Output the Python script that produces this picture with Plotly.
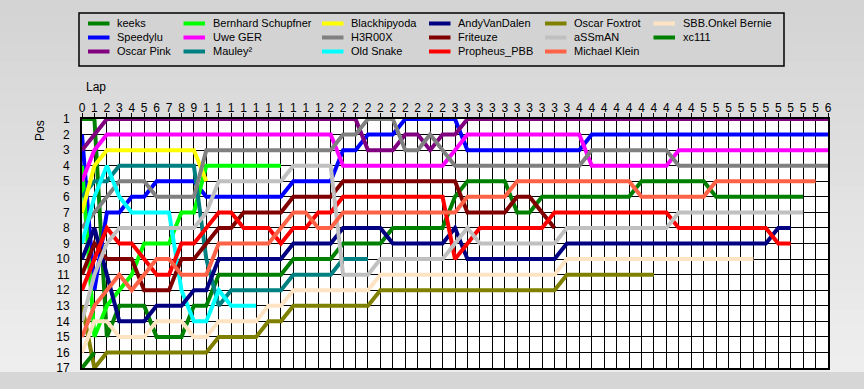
import plotly.graph_objects as go

# ---------------- data ----------------
drivers = ["keeks", "Speedylu", "Oscar Pink", "Bernhard Schupfner", "Uwe GER", "Mauley²",
           "Blackhipyoda", "H3R00X", "Old Snake", "AndyVanDalen", "Friteuze", "Propheus_PBB",
           "Oscar Foxtrot", "aSSmAN", "Michael Klein", "SBB.Onkel Bernie", "xc111"]
colors = ["#008000", "#0000FF", "#800080", "#00FF00", "#FF00FF", "#008080",
          "#FFFF00", "#808080", "#00FFFF", "#000080", "#800000", "#FF0000",
          "#808000", "#C0C0C0", "#FF6347", "#FFE4C4", "#008000"]

# position per lap, starting at lap 0
keeks = [1, 1, 15, 13, 13, 13, 15, 15, 15, 13, 13, 11, 11, 11, 11, 11, 11, 10, 10, 10,
         10, 9, 9, 9, 9, 8, 8, 8, 8, 8, 6, 5, 5, 5, 5, 7, 7, 6, 6, 6,
         6, 6, 6, 6, 6, 5, 5, 5, 5, 5, 5, 6, 6, 6, 6, 6, 6, 6, 6]
speedylu = [2, 12, 7, 7, 6, 6, 5, 5, 5, 5, 6, 6, 6, 6, 6, 6, 6, 5, 5, 5,
            5, 3, 3, 2, 2, 2, 1, 1, 1, 1, 1, 3, 3, 3, 3, 3, 3, 3, 3, 3,
            3, 2, 2, 2, 2, 2, 2, 2, 2, 2, 2, 2, 2, 2, 2, 2, 2, 2, 2, 2, 2]
oscar_pink = [3, 2, 1, 1, 1, 1, 1, 1, 1, 1, 1, 1, 1, 1, 1, 1, 1, 1, 1, 1,
              1, 1, 1, 3, 3, 3, 2, 2, 3, 2, 2, 1, 1, 1, 1, 1, 1, 1, 1, 1,
              1, 1, 1, 1, 1, 1, 1, 1, 1, 1, 1, 1, 1, 1, 1, 1, 1, 1, 1, 1, 1]
bernhard = [4, 15, 13, 12, 11, 9, 9, 9, 7, 7, 4, 4, 4, 4, 4, 4, 4]
uwe_ger = [5, 3, 2, 2, 2, 2, 2, 2, 2, 2, 2, 2, 2, 2, 2, 2, 2, 2, 2, 2,
           2, 4, 4, 4, 4, 4, 4, 4, 4, 4, 3, 2, 2, 2, 2, 2, 2, 2, 2, 2,
           2, 4, 4, 4, 4, 4, 4, 4, 3, 3, 3, 3, 3, 3, 3, 3, 3, 3, 3, 3, 3]
mauley = [6, 5, 5, 4, 4, 4, 4, 4, 4, 4, 10, 13, 12, 12, 12, 12, 12, 11, 11, 11,
          11, 10, 10, 10]
blackhipyoda = [7, 4, 3, 3, 3, 3, 3, 3, 3, 3, 5]
h3r00x = [8, 7, 6, 5, 5, 5, 6, 6, 6, 6, 3, 3, 3, 3, 3, 3, 3, 3, 3, 3,
          3, 2, 2, 1, 1, 1, 3, 3, 2, 3, 4, 4, 4, 4, 4, 4, 4, 4, 4, 4,
          4, 3, 3, 3, 3, 3, 3, 3, 4, 4, 4, 4, 4, 4, 4, 4, 4, 4, 4, 4, 4]
old_snake = [9, 6, 4, 6, 7, 7, 7, 7, 12, 14, 14, 12, 13, 13, 13]
andyvandalen = [10, 8, 11, 14, 14, 14, 13, 13, 13, 12, 12, 10, 10, 10, 10, 10, 10, 9, 9, 9,
                9, 8, 8, 8, 8, 9, 9, 9, 9, 9, 8, 10, 10, 10, 10, 10, 10, 10, 10, 9,
                9, 9, 9, 9, 9, 9, 9, 9, 9, 9, 9, 9, 9, 9, 9, 9, 8, 8]
friteuze = [11, 9, 10, 10, 10, 12, 12, 12, 10, 10, 9, 8, 8, 7, 7, 7, 7, 6, 6, 6,
            6, 5, 5, 5, 5, 5, 5, 5, 5, 5, 5, 7, 7, 7, 7, 6, 6, 7, 8]
propheus = [12, 10, 8, 9, 9, 10, 11, 11, 9, 9, 8, 7, 7, 8, 8, 8, 9, 8, 8, 7,
            7, 6, 6, 6, 6, 6, 6, 6, 6, 6, 10, 9, 8, 8, 8, 8, 8, 8, 7, 7,
            7, 7, 7, 7, 7, 7, 7, 7, 8, 8, 8, 8, 8, 8, 8, 8, 9, 9]
oscar_foxtrot = [13, 17, 16, 16, 16, 16, 16, 16, 16, 16, 16, 15, 15, 15, 15, 14, 14, 13, 13, 13,
                 13, 13, 13, 13, 12, 12, 12, 12, 12, 12, 12, 12, 12, 12, 12, 12, 12, 12, 12, 11,
                 11, 11, 11, 11, 11, 11, 11]
assman = [14, 11, 9, 8, 8, 8, 8, 8, 8, 8, 7, 5, 5, 5, 5, 5, 5, 4, 4, 4,
          4, 11, 11, 11, 10, 10, 10, 10, 10, 10, 9, 8, 9, 9, 9, 9, 9, 9, 9, 8,
          8, 8, 8, 8, 8, 8, 8, 8, 7, 7, 7, 7, 7, 7, 7, 7, 7, 7, 7]
michael_klein = [15, 13, 12, 11, 12, 11, 10, 10, 11, 11, 11, 9, 9, 9, 9, 9, 8, 7, 7, 8,
                 8, 7, 7, 7, 7, 7, 7, 7, 7, 7, 7, 6, 6, 6, 6, 5, 5, 5, 5, 5,
                 5, 5, 5, 5, 5, 6, 6, 6, 6, 6, 6, 5, 5, 5, 5, 5, 5, 5, 5, 5]
sbb = [16, 14, 14, 15, 15, 15, 14, 14, 14, 15, 15, 14, 14, 14, 14, 13, 13, 12, 12, 12,
       12, 12, 12, 12, 11, 11, 11, 11, 11, 11, 11, 11, 11, 11, 11, 11, 11, 11, 11, 10,
       10, 10, 10, 10, 10, 10, 10, 10, 10, 10, 10, 10, 10, 10, 10]
xc111 = [17, 16]

series = [keeks, speedylu, oscar_pink, bernhard, uwe_ger, mauley, blackhipyoda, h3r00x,
          old_snake, andyvandalen, friteuze, propheus, oscar_foxtrot, assman, michael_klein,
          sbb, xc111]

laps = list(range(0, 61))
lap_labels = [str(l)[0] for l in laps]
positions = list(range(1, 18))

# ---------------- layout helpers ----------------
W, H = 864, 389
L, R, T, B = 82, 36, 119, 21
PW, PH = W - L - R, H - T - B


def px(x):
    return (x - L) / PW


def py(y):
    return (H - B - y) / PH


fig = go.Figure()
for name, col, ys in zip(drivers, colors, series):
    fig.add_trace(go.Scatter(x=laps[:len(ys)], y=ys, mode="lines", name=name,
                             line=dict(color=col, width=4), showlegend=False,
                             hoverinfo="x+y+name"))

shapes = []
# background gradient (page)
n = 24
top_c, bot_c = (212, 212, 212), (238, 238, 238)
for i in range(n):
    y0 = i * 372 / n
    y1 = (i + 1) * 372 / n + 0.5
    t = i / (n - 1)
    c = tuple(int(round(top_c[k] + (bot_c[k] - top_c[k]) * t)) for k in range(3))
    shapes.append(dict(type="rect", xref="paper", yref="paper", layer="below",
                       x0=px(0), x1=px(W), y0=py(y1), y1=py(y0),
                       fillcolor="rgb(%d,%d,%d)" % c, line=dict(width=0)))
shapes.append(dict(type="rect", xref="paper", yref="paper", layer="below",
                   x0=px(0), x1=px(W), y0=py(H), y1=py(372),
                   fillcolor="#d6d6d6", line=dict(width=0)))
# plot area
shapes.append(dict(type="rect", xref="paper", yref="paper", layer="below",
                   x0=0, x1=1, y0=0, y1=1, fillcolor="white", line=dict(width=0)))

# legend box
shapes.append(dict(type="rect", xref="paper", yref="paper", layer="above",
                   x0=px(79), x1=px(784), y0=py(66), y1=py(13),
                   fillcolor="#d3d3d3", line=dict(color="black", width=1.5)))
col_x = [88, 183.5, 322, 429, 545, 653.5]
row_y = [23.5, 37.5, 51.5]
annotations = []
for i, (name, col) in enumerate(zip(drivers, colors)):
    cx = col_x[i // 3]
    ry = row_y[i % 3]
    shapes.append(dict(type="line", xref="paper", yref="paper", layer="above",
                       x0=px(cx), x1=px(cx + 21.5), y0=py(ry), y1=py(ry),
                       line=dict(color=col, width=4)))
    annotations.append(dict(xref="paper", yref="paper", x=px(cx + 27), y=py(ry),
                            text=name, showarrow=False, xanchor="left", yanchor="middle",
                            font=dict(family="Liberation Sans", size=11, color="black")))

annotations.append(dict(xref="paper", yref="paper", x=px(84), y=py(87), text="Lap",
                        showarrow=False, xanchor="left", yanchor="middle",
                        font=dict(family="Liberation Sans", size=12, color="black")))
annotations.append(dict(xref="paper", yref="paper", x=px(40), y=py(131), text="Pos",
                        showarrow=False, textangle=-90, xanchor="center", yanchor="middle",
                        font=dict(family="Liberation Sans", size=12, color="black")))

fig.update_layout(
    width=W, height=H,
    margin=dict(l=L, r=R, t=T, b=B, pad=0),
    paper_bgcolor="#e2e2e2", plot_bgcolor="rgba(0,0,0,0)",
    shapes=shapes, annotations=annotations, showlegend=False,
    font=dict(family="Liberation Sans", size=12, color="black"),
    xaxis=dict(side="top", range=[0, 60], tickmode="array", tickvals=laps, ticktext=lap_labels,
               showgrid=True, gridcolor="black", gridwidth=1, zeroline=False,
               showline=True, linecolor="black", linewidth=2, mirror=True,
               ticks="",
               minor=dict(ticks="outside", ticklen=4, tickcolor="black", tickwidth=1,
                          tickmode="array", tickvals=laps, showgrid=False),
               tickfont=dict(family="Liberation Sans", size=12, color="black"), fixedrange=True),
    yaxis=dict(range=[17, 1], tickmode="array", tickvals=positions,
               ticktext=[str(p) for p in positions],
               showgrid=True, gridcolor="black", gridwidth=1, zeroline=False,
               showline=True, linecolor="black", linewidth=2, mirror=True,
               ticks="", ticklabelstandoff=8,
               tickfont=dict(family="Liberation Sans", size=12, color="black"), fixedrange=True),
)

fig.write_html("out.html", config={"displayModeBar": False},
               post_script="document.body.style.margin='0';document.body.style.overflow='hidden';")
